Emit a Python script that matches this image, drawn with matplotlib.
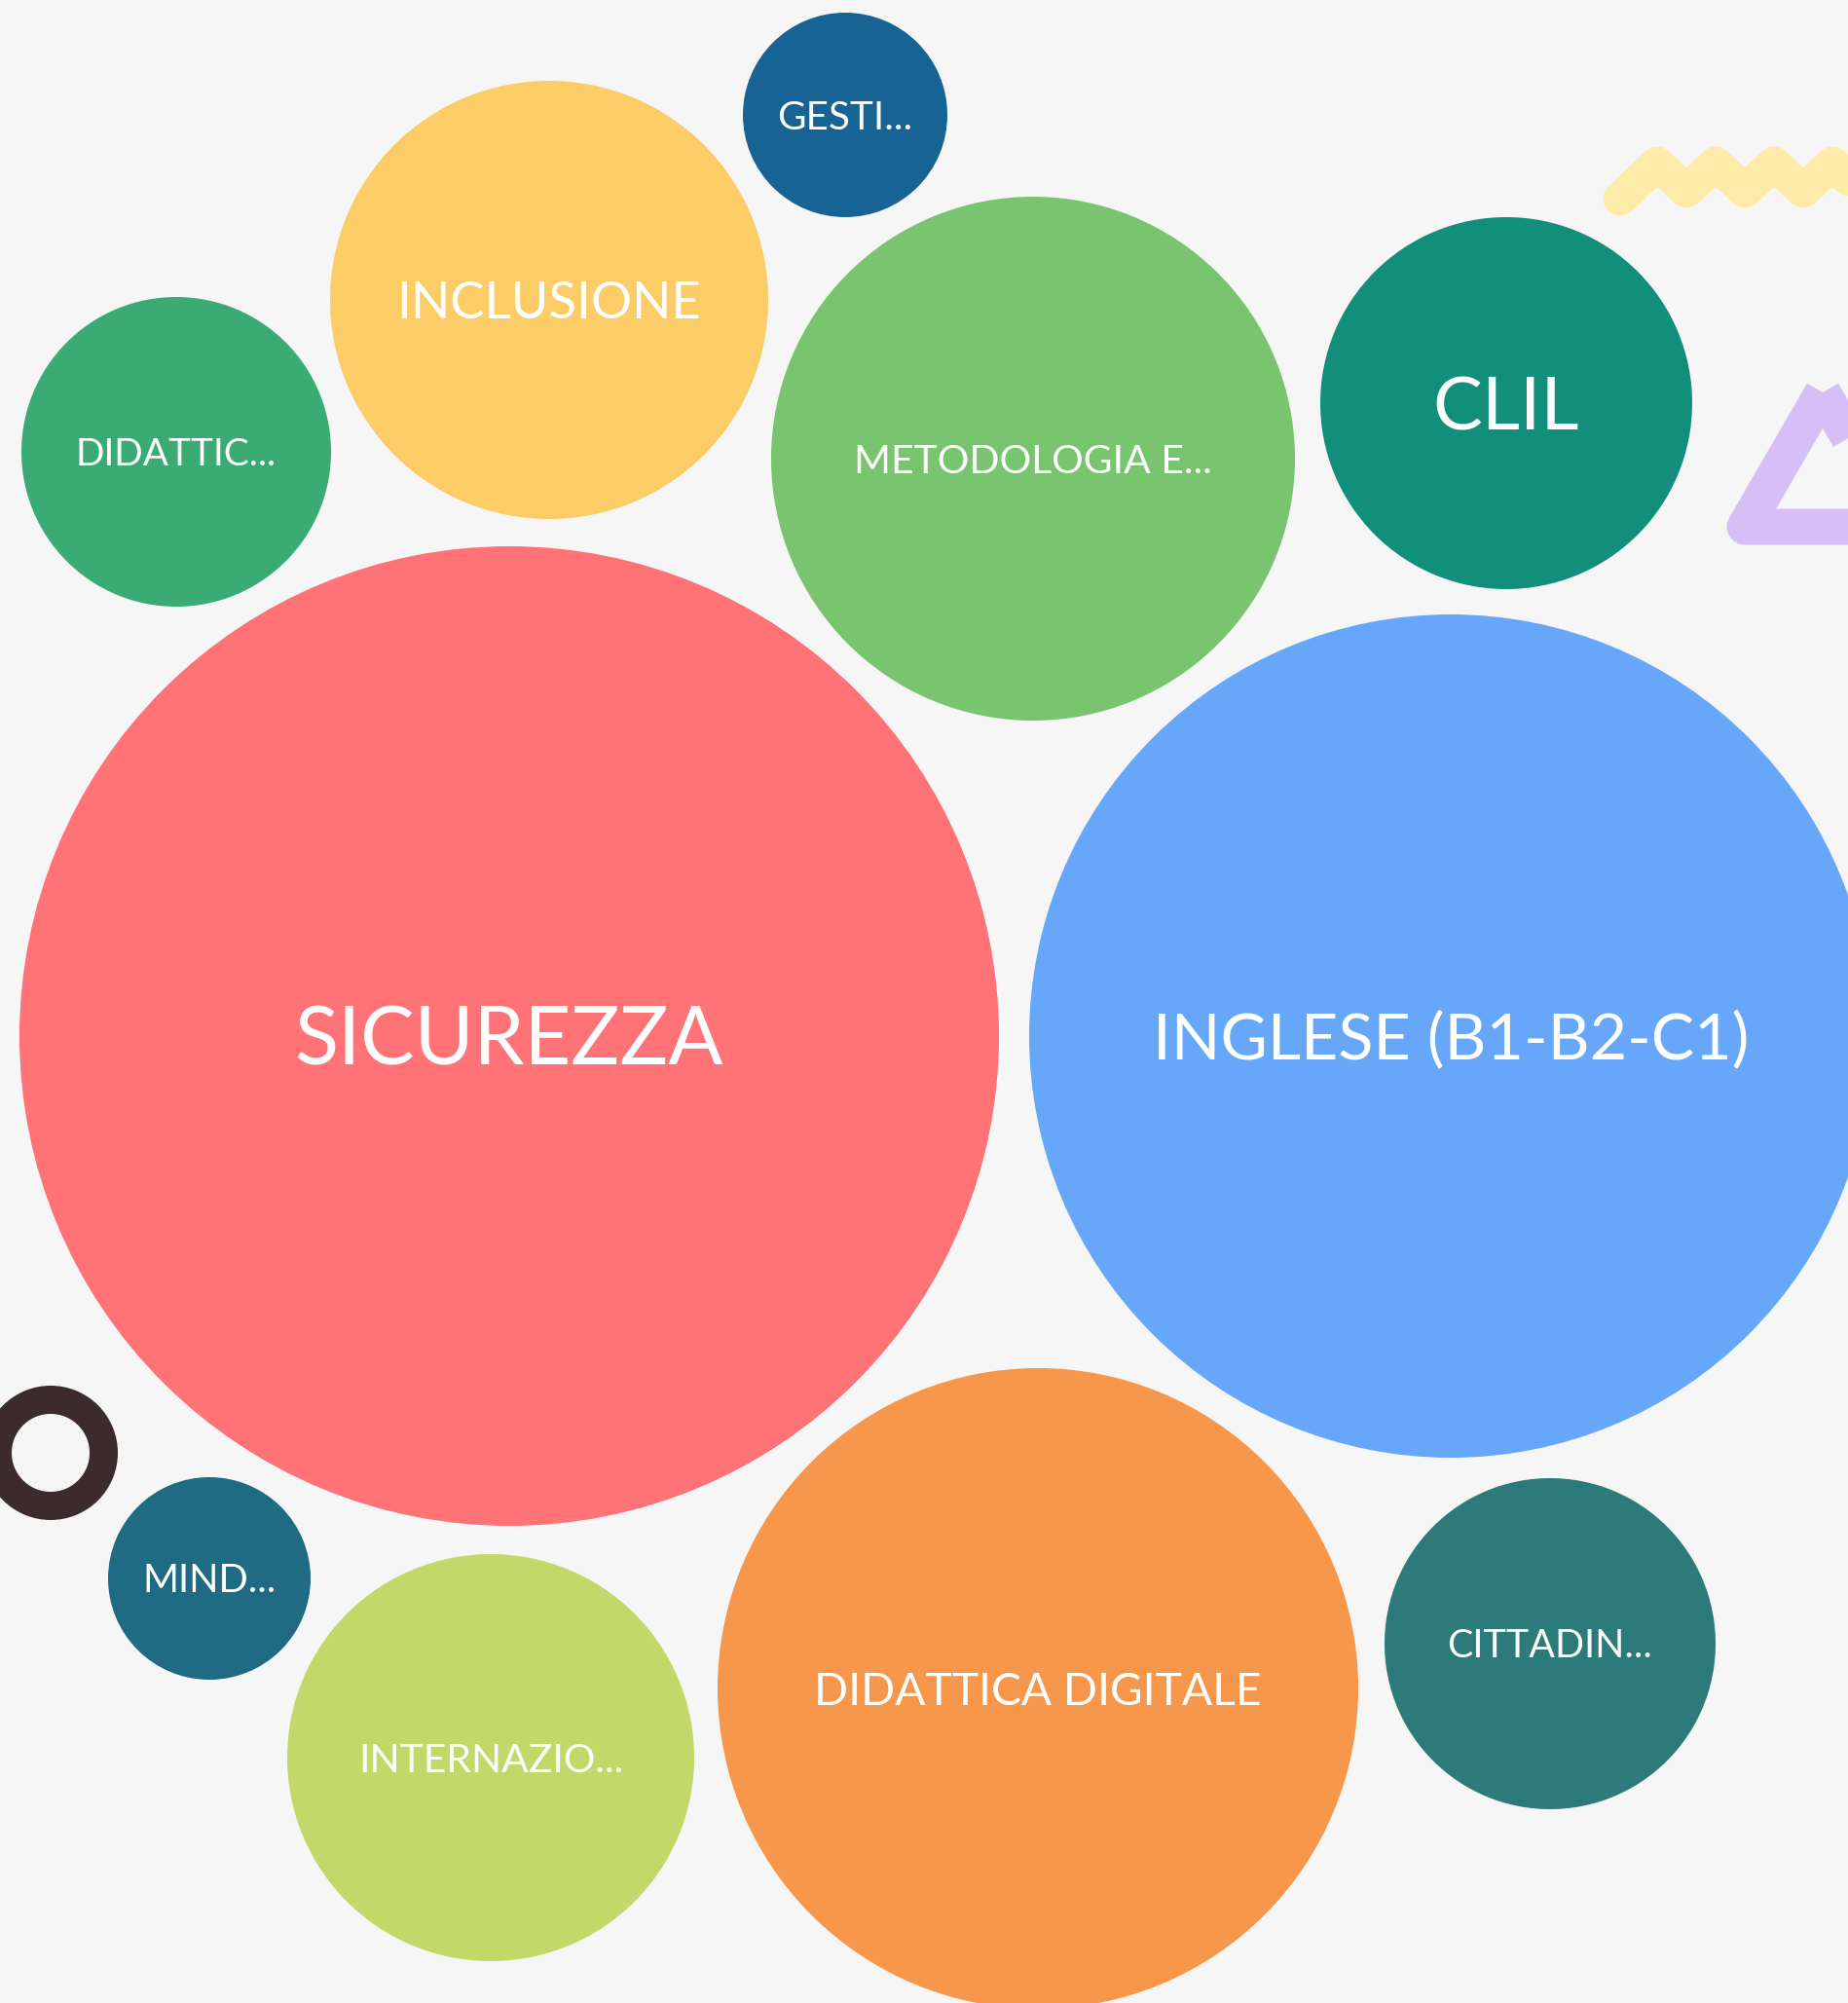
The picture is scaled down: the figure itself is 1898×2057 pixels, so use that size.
import matplotlib
matplotlib.use("Agg")
import matplotlib.pyplot as plt
from matplotlib.patches import Circle, Wedge, Polygon
from matplotlib.lines import Line2D

# bubble data (radius in px of the 1898x2057 canvas)
labels = ["SICUREZZA", "INGLESE (B1-B2-C1)", "DIDATTICA DIGITALE", "METODOLOGIA E...",
          "INCLUSIONE", "INTERNAZIO...", "CLIL", "CITTADIN...", "DIDATTIC...",
          "GESTI...", "MIND..."]
radius = [503, 433, 329, 269, 225, 209, 191, 170, 159, 105, 104]
colors = ["#FF7276", "#66A7FA", "#F6974C", "#79C46E", "#FCCD66", "#C2D969",
          "#128F7B", "#2D7A7A", "#3BAB76", "#166394", "#1F6B84"]

# packed layout (centres) and label widths
centre_x = [523, 1490, 1066, 1061, 564, 504, 1547, 1592, 181, 868, 215]
centre_y = [1064, 1064, 1734, 471, 308, 1805, 414, 1688, 464, 118, 1621]
label_w = [437, 609, 455, 365, 308, 269, 148, 209, 205, 138, 136]

W, H, DPI = 1898, 2057, 100
BG = "#F6F6F6"

fig = plt.figure(figsize=(W / DPI, H / DPI), dpi=DPI, facecolor=BG)
ax = fig.add_axes([0, 0, 1, 1])
ax.set_xlim(0, W)
ax.set_ylim(H, 0)
ax.set_aspect("equal")
ax.axis("off")
ax.set_facecolor(BG)

px2pt = 72.0 / DPI

# decorations
zz_x = [1664, 1702, 1732, 1762, 1792, 1822, 1852, 1882, 1912, 1942]
zz_y = [204, 168, 196, 168, 196, 168, 196, 168, 196, 168]
ax.add_line(Line2D(zz_x, zz_y, color="#FEEBA9", lw=35 * px2pt,
                   solid_joinstyle="round", solid_capstyle="round"))

tri = Polygon([(1872, 403), (1952, 541), (1792, 541)], closed=True, fill=False,
              edgecolor="#D6BFF6", lw=37 * px2pt, joinstyle="round")
ax.add_patch(tri)

ax.add_patch(Wedge((52, 1492), 69, 0, 360, width=29, facecolor="#3C2B2D", edgecolor="none"))

# bubbles
for i in range(len(labels)):
    ax.add_patch(Circle((centre_x[i], centre_y[i]), radius[i], facecolor=colors[i],
                        edgecolor="none"))

fig.canvas.draw()
renderer = fig.canvas.get_renderer()
for i in range(len(labels)):
    t = ax.text(centre_x[i], centre_y[i], labels[i], fontsize=10, family="Lato",
                color="white", ha="center", va="baseline")
    w = t.get_window_extent(renderer).width
    size = 10 * label_w[i] / w
    cap = 0.7165 * size / px2pt
    t.set_fontsize(size)
    t.set_y(centre_y[i] + cap / 2)

fig.savefig("out.png", dpi=DPI, facecolor=BG)
